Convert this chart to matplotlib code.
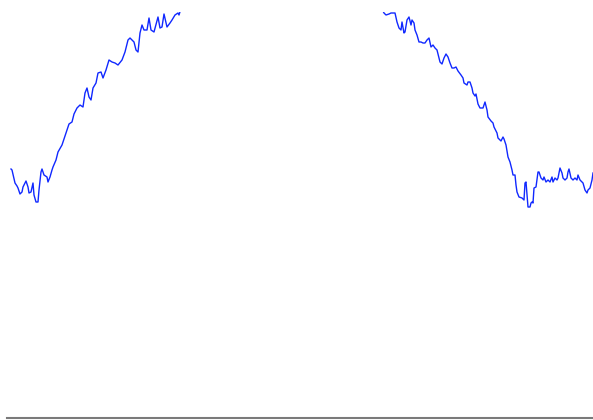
import numpy as np
import matplotlib
matplotlib.use('Agg')
import matplotlib.pyplot as plt

# sample index and value
t_rise = [4, 5, 8, 10, 11, 13, 15, 16, 19, 21, 22, 24, 26, 27, 29, 31, 32, 34,
          35, 37, 40, 41, 43, 45, 46, 49, 51, 55, 57, 60, 62, 65, 67, 70, 73,
          76, 78, 80, 82, 84, 86, 89, 91, 94, 96, 99, 102, 105, 108, 111, 115,
          118, 121, 123, 127, 129, 131, 133, 135, 137, 140, 142, 144, 147, 151,
          153, 155, 157, 160, 163, 165, 168, 171, 172, 175]
v_rise = [249, 248, 235, 232, 230, 224, 226, 231, 237, 231, 225, 226, 235, 223,
          216, 216, 228, 246, 249, 243, 241, 236, 241, 248, 251, 258, 266, 273,
          279, 288, 294, 296, 304, 310, 313, 311, 325, 330, 321, 318, 330, 335,
          345, 346, 340, 348, 358, 356, 355, 353, 358, 366, 378, 380, 376, 368,
          366, 385, 393, 388, 388, 400, 388, 386, 401, 390, 391, 404, 391, 395,
          398, 403, 405, 403, 413]

# part above the visible range (clipped)
t_top = [183, 213, 243, 275, 308, 338, 368, 373]
v_top = [423, 443, 456, 460, 456, 443, 423, 413]

t_fall = [377, 379, 382, 384, 388, 390, 392, 394, 395, 397, 398, 400, 402, 404,
          405, 407, 408, 410, 412, 414, 416, 418, 420, 422, 424, 426, 428, 430,
          433, 435, 437, 439, 441, 443, 445, 447, 449, 451, 454, 456, 457, 460,
          461, 463, 465, 466, 468, 469, 470, 471, 473, 476, 478, 480, 481, 484,
          486, 487, 490, 491, 494, 496, 497, 499, 501, 503, 505, 506, 508, 509,
          510, 512, 515, 517, 518, 519, 520, 521, 523, 524, 525, 526, 527, 529,
          531, 532, 534, 536, 537, 539, 541, 543, 545, 546, 548, 550, 551, 553,
          555, 556, 558, 560, 561, 562, 564, 566, 568, 570, 571, 573, 575, 576,
          578, 580, 581, 583, 585, 586]
v_fall = [405, 403, 404, 405, 405, 396, 390, 388, 396, 385, 386, 398, 401, 393,
          398, 395, 388, 383, 376, 376, 375, 375, 378, 380, 371, 373, 370, 368,
          356, 354, 360, 364, 361, 355, 350, 350, 351, 347, 343, 340, 335, 333,
          336, 336, 330, 325, 322, 324, 319, 314, 310, 310, 316, 308, 301, 297,
          295, 291, 285, 280, 277, 281, 279, 273, 261, 256, 248, 243, 243, 233,
          226, 221, 220, 218, 235, 236, 223, 211, 211, 215, 216, 215, 230, 231,
          246, 246, 240, 238, 241, 236, 238, 236, 241, 236, 240, 238, 240, 250,
          245, 240, 238, 240, 246, 249, 240, 238, 240, 238, 243, 238, 236, 235,
          228, 225, 228, 230, 238, 245]

t = np.array(t_rise + t_top + t_fall)
v = np.array(v_rise + v_top + v_fall)

fig = plt.figure(figsize=(5.93, 4.2), dpi=100)
ax = fig.add_axes([7 / 593, 2 / 420, 586 / 593, 406 / 420])
ax.plot(t, v, color='#1028ff', lw=1.0)

ax.set_xlim(0, 586)
ax.set_ylim(0, 406)
for side in ['top', 'right', 'left']:
    ax.spines[side].set_visible(False)
ax.spines['bottom'].set_color('#7a7a7a')
ax.spines['bottom'].set_linewidth(1.5)
ax.set_xticks([])
ax.set_yticks([])

fig.savefig('out.png', dpi=100)
